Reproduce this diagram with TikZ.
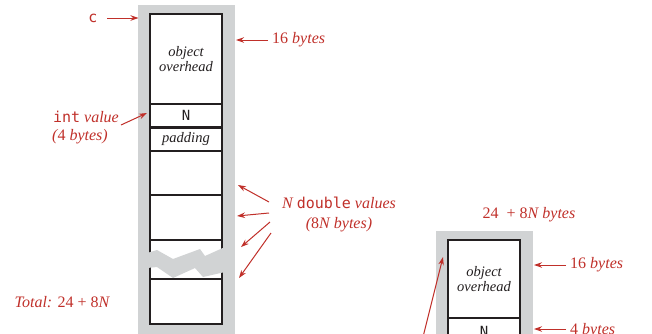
\documentclass[tikz,border=0pt]{standalone}
\usepackage{fontspec}
\setmainfont{Liberation Serif}
\newfontfamily\codefont{DejaVu Sans Mono}
\usetikzlibrary{arrows.meta}
\definecolor{memred}{RGB}{192,48,42}
\definecolor{memgray}{RGB}{209,211,212}
\definecolor{memline}{RGB}{35,31,32}
\newcommand{\num}[1]{{\upshape #1}}
\tikzset{
  cell/.style={draw=memline,line width=1.1pt,fill=white},
  note/.style={text=memred,font=\fontsize{16}{19}\selectfont\itshape,inner sep=0pt},
  inbox/.style={text=memline,inner sep=0pt,align=center,font=\fontsize{14.5}{15}\selectfont\itshape},
  code/.style={inner sep=0pt,font=\codefont\fontsize{15}{17}\selectfont},
  pointer/.style={draw=memred,line width=1pt,-{Stealth[length=8pt,width=5.5pt]}}
}
\begin{document}
\begin{tikzpicture}[x=1pt,y=-1pt]
  \useasboundingbox (0,0) rectangle (652,333);
  \clip (0,0) rectangle (652,333);
  % left object: array of N doubles
  \fill[memgray] (138,5) rectangle (235,340);
  \draw[cell] (150,14) rectangle (222,104);
  \draw[cell] (150,104) rectangle (222,127);
  \draw[cell] (150,128.5) rectangle (222,151);
  \draw[cell] (150,151) rectangle (222,195);
  \draw[cell] (150,195) rectangle (222,240);
  \draw[cell] (150,240) rectangle (222,279);
  \draw[cell] (150,279) rectangle (222,324);
  \fill[memgray] (147,253) -- (157,250) -- (173,259) -- (200,249) -- (205,256) -- (225,247)
    -- (225,272) -- (203,277) -- (195,268) -- (173,278) -- (157,267) -- (147,268) -- cycle;
  \node[inbox] (overL) at (186,59) {object\\overhead};
  \node[code,text=memline,font=\codefont\fontsize{14}{15}\selectfont] (nL) at (186,115.5) {N};
  \node[inbox] (padL) at (186,139.5) {padding};
  % labels of the left object
  \node[code,text=memred] (ref) at (93,18) {c};
  \coordinate (refTip) at (138.5,18);
  \draw[pointer] (107,18) -- (refTip);
  \node[note,anchor=west] (hdrL) at (272,40) {\num{16} bytes};
  \coordinate (hdrTip) at (236,40);
  \draw[pointer] (hdrL.west) ++(-4,0) -- (hdrTip);
  \node[note,anchor=east] (intL) at (119,117) {{\upshape\codefont\fontsize{15}{17}\selectfont int} value};
  \node[note] (intB) at (80,137) {(\num{4} bytes)};
  \coordinate (intTip) at (147,113);
  \draw[pointer] (121,125) -- (intTip);
  \node[note] (dblL) at (339,203) {N {\upshape\codefont\fontsize{15}{17}\selectfont double} values};
  \node[note] (dblB) at (339,225) {(\num{8}N bytes)};
  \coordinate (dblA) at (238,185);
  \coordinate (dblB1) at (237,216);
  \coordinate (dblC) at (241,247);
  \coordinate (dblD) at (239,278);
  \draw[pointer] (269,202) -- (dblA);
  \draw[pointer] (269,213) -- (dblB1);
  \draw[pointer] (270,222) -- (dblC);
  \draw[pointer] (271,233) -- (dblD);
  \node[note] (total) at (62,302) {Total: \num{24 + 8}N};
  % right object
  \fill[memgray] (436,231) rectangle (533,340);
  \draw[cell] (448,240) rectangle (520,318);
  \draw[cell] (448,318) rectangle (520,345);
  \node[inbox] (overR) at (484,279) {object\\overhead};
  \node[code,text=memline,font=\codefont\fontsize{14}{15}\selectfont] (nR) at (484,331) {N};
  \node[note] (sizeR) at (529,215) {\num{24 \ + 8}N bytes};
  \node[note,anchor=west] (hdrR) at (570,265) {\num{16} bytes};
  \coordinate (hdrRTip) at (534,265);
  \draw[pointer] (hdrR.west) ++(-4,0) -- (hdrRTip);
  \node[note,anchor=west] (intR) at (570,331) {\num{4} bytes};
  \coordinate (intRTip) at (534,329);
  \draw[pointer] (566,329) -- (intRTip);
  \coordinate (objTip) at (443,257);
  \draw[pointer] (421,345) -- (objTip);
\end{tikzpicture}
\end{document}
